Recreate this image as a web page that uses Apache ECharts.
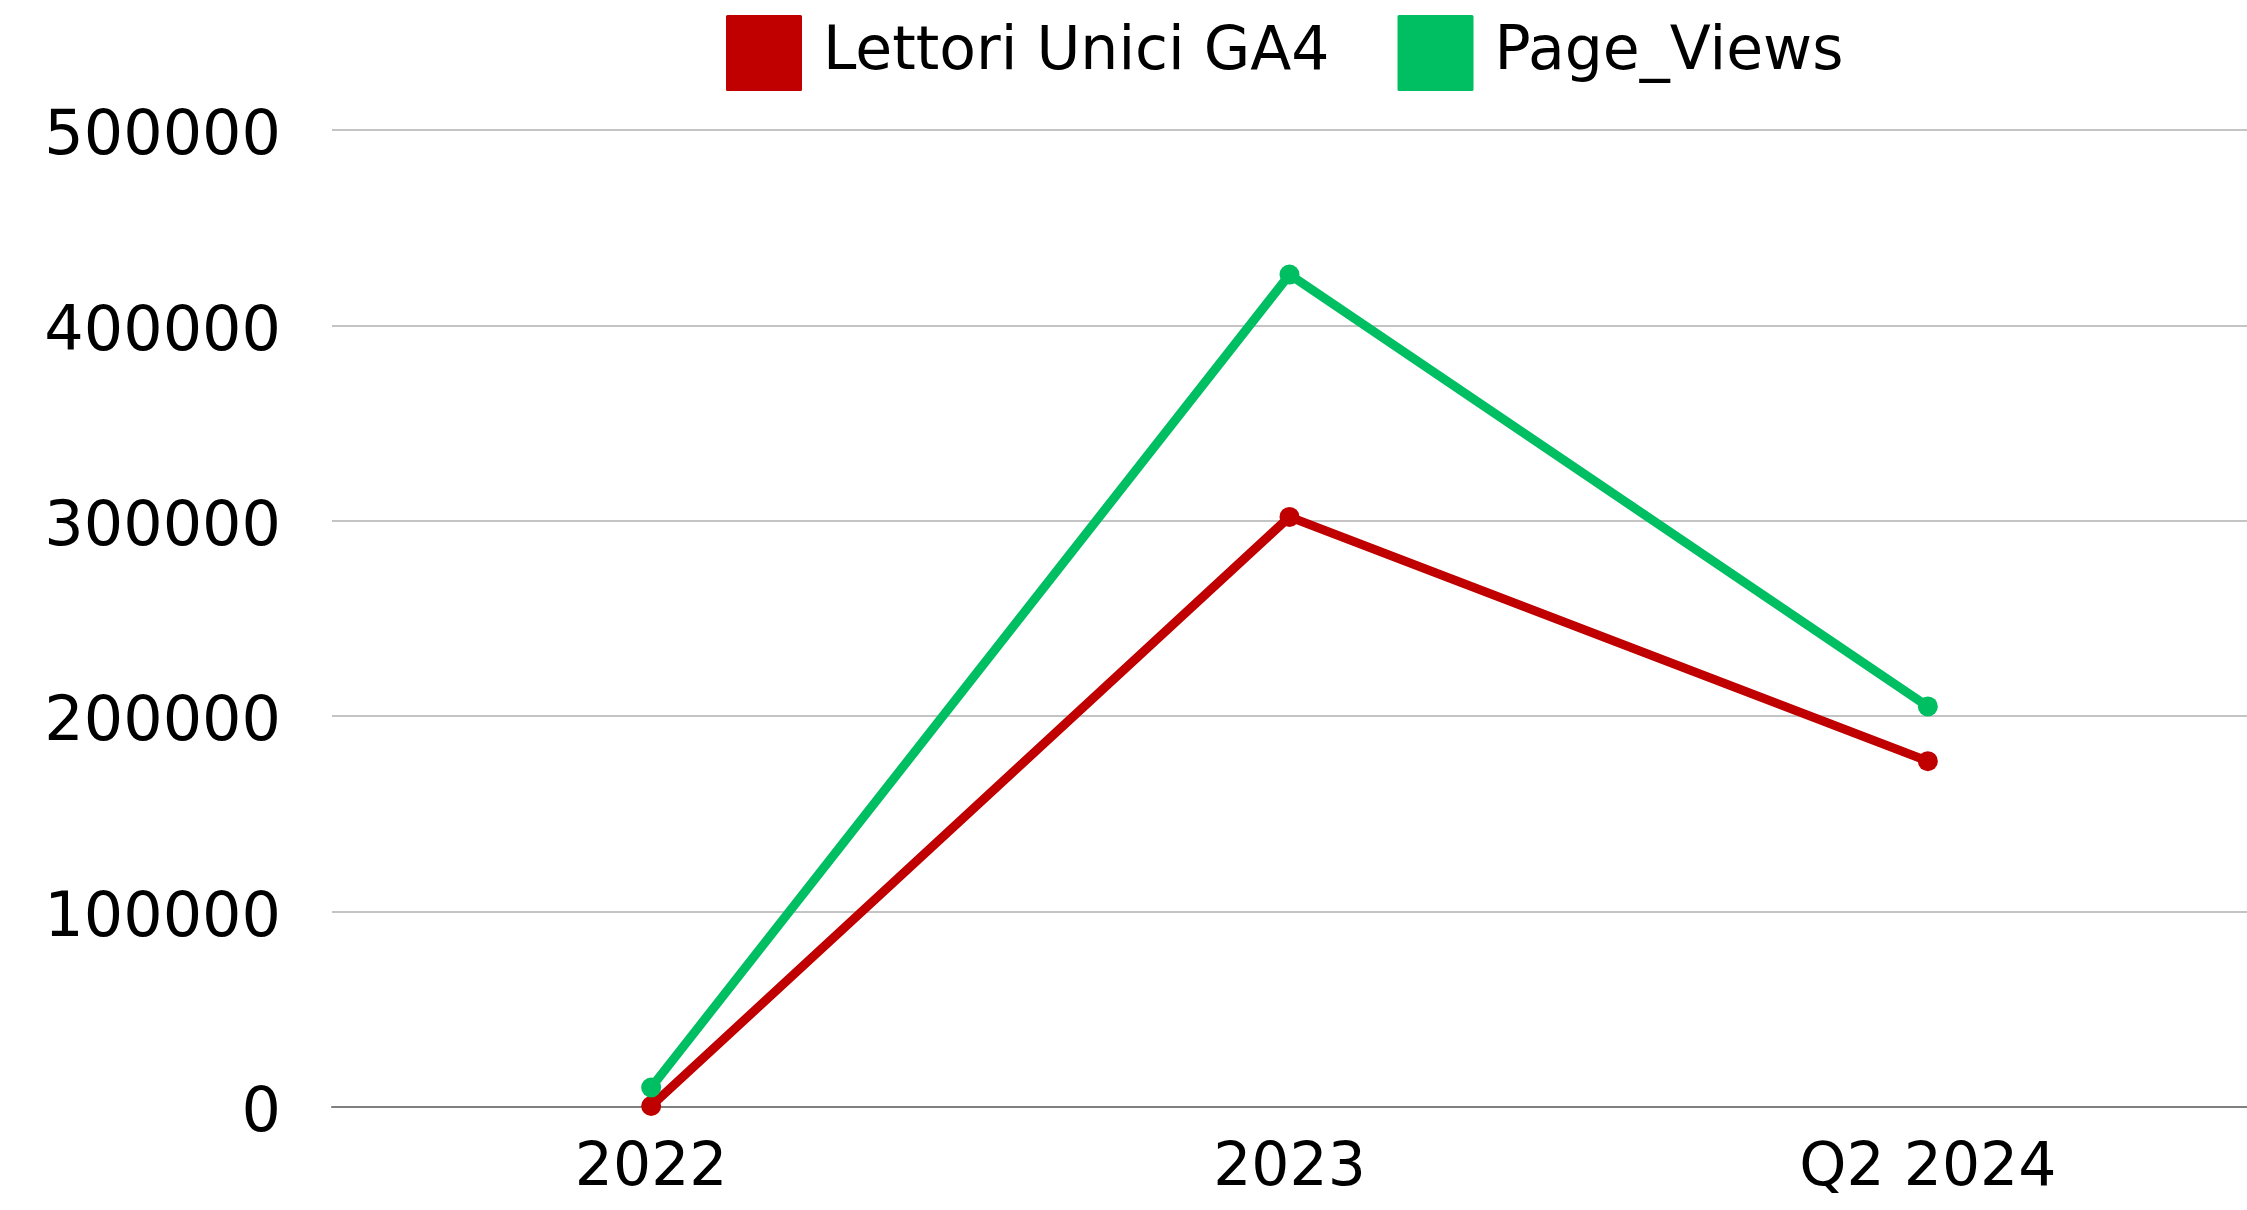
<!DOCTYPE html>
<html>
<head>
<meta charset="utf-8">
<script src="https://cdn.jsdelivr.net/npm/echarts@6/dist/echarts.min.js"></script>
<style>
html,body{margin:0;padding:0;background:#fff;}
#c{width:2247px;height:1210px;}
</style>
</head>
<body>
<div id="c"></div>
<script>
var categories = ['2022', '2023', 'Q2 2024'];
var lettoriUnici = [500, 302000, 177000];
var pageViews = [10000, 426000, 205000];
var seriesNames = ['Lettori Unici GA4', 'Page_Views'];

var FONT = 'DejaVu Sans';
var chart = echarts.init(document.getElementById('c'));
chart.setOption({
  animation: false,
  backgroundColor: '#ffffff',
  color: ['#C00000', '#00BF63'],
  legend: {
    left: 721, top: 10,
    itemWidth: 76, itemHeight: 76, itemGap: 68,
    icon: 'path://M2,0 L98,0 Q100,0 100,2 L100,98 Q100,100 98,100 L2,100 Q0,100 0,98 L0,2 Q0,0 2,0 Z',
    textStyle: { fontFamily: FONT, fontSize: 60, color: '#000', padding: [0, 0, 0, 16] },
    data: seriesNames
  },
  grid: { left: 332, right: 0, top: 130, bottom: 103, containLabel: false },
  xAxis: {
    type: 'category',
    data: categories,
    boundaryGap: true,
    axisLine: { show: true, lineStyle: { color: '#808080', width: 2 } },
    axisTick: { show: false },
    axisLabel: { fontFamily: FONT, fontSize: 60, color: '#000', margin: 32 }
  },
  yAxis: {
    type: 'value',
    min: 0, max: 500000, interval: 100000,
    axisLine: { show: false },
    axisTick: { show: false },
    splitLine: { show: true, lineStyle: { color: '#c4c4c4', width: 2 } },
    axisLabel: { fontFamily: FONT, fontSize: 62, color: '#000', margin: 51,
      formatter: function (v) { return '{a|' + v + '}'; },
      rich: { a: { fontFamily: FONT, fontSize: 62, color: '#000', padding: [16, 0, 0, 0] } } }
  },
  series: [
    {
      name: seriesNames[0], type: 'line', data: lettoriUnici,
      symbol: 'circle', symbolSize: 20,
      lineStyle: { width: 9, color: '#C00000' },
      itemStyle: { color: '#C00000' }
    },
    {
      name: seriesNames[1], type: 'line', data: pageViews,
      symbol: 'circle', symbolSize: 20,
      lineStyle: { width: 9, color: '#00BF63' },
      itemStyle: { color: '#00BF63' }
    }
  ]
});
</script>
</body>
</html>
